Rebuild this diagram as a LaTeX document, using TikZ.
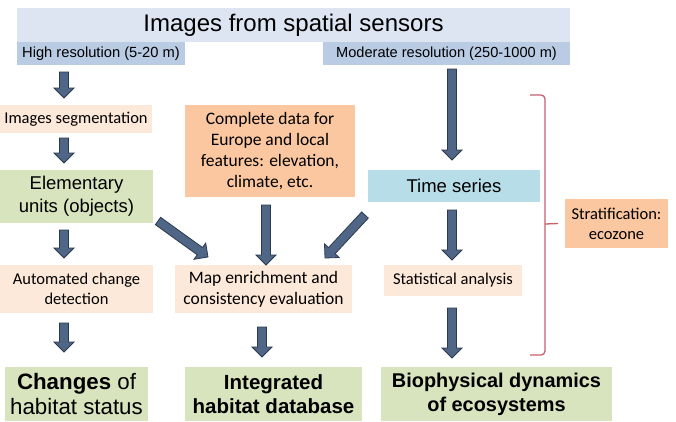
\documentclass[tikz,border=0pt]{standalone}
\usepackage{fontspec}
\setmainfont{Liberation Sans}
\newfontfamily\calfont{Carlito}
\usetikzlibrary{calc}
\definecolor{titlebg}{HTML}{DCE5F1}
\definecolor{resbg}{HTML}{B9CCE4}
\definecolor{peach}{HTML}{FDE9D9}
\definecolor{orangebg}{HTML}{FAC7A0}
\definecolor{greenbg}{HTML}{D8E4BD}
\definecolor{tsbg}{HTML}{B7DEE8}
\definecolor{arrfill}{HTML}{506686}
\definecolor{arrline}{HTML}{2C3A4E}
\definecolor{brk}{HTML}{C9606C}
\tikzset{
  box/.style={inner sep=0pt, outer sep=0pt, anchor=north west, align=center},
  calt/.style={font=\calfont\fontsize{16.5}{20}\selectfont},
  calbig/.style={font=\calfont\fontsize{17.5}{21}\selectfont},
  blockarrow/.style={draw=arrline, fill=arrfill, line width=0.8pt, line join=miter},
  bracketline/.style={draw=brk, line width=1.3pt, rounded corners=4pt},
}
\newcommand\barrow[2]{%
  \path[blockarrow] let \p1=#1, \p2=#2,
    \n1={atan2(\y2-\y1,\x2-\x1)}, \n2={veclen(\x2-\x1,\y2-\y1)} in
    [shift={(\p1)}, rotate=\n1]
    (0pt,-4.5pt) -- ({\n2*1pt-10pt},-4.5pt) -- ({\n2*1pt-10pt},-10pt) --
    ({\n2*1pt},0pt) -- ({\n2*1pt-10pt},10pt) -- ({\n2*1pt-10pt},4.5pt) --
    (0pt,4.5pt) -- cycle;}
\begin{document}
\begin{tikzpicture}[x=1pt,y=-1pt]
\fill[white] (0,0) rectangle (676,421);
\useasboundingbox (0,0) rectangle (676,421);

% top
\node[box, fill=titlebg, minimum width=553pt, minimum height=34pt,
      font=\fontsize{24}{28}\selectfont] (title) at (17,8) {Images from spatial sensors};
\node[box, fill=resbg, minimum width=168pt, minimum height=23pt,
      font=\fontsize{14.7}{17}\selectfont] (hr) at (17,42) {High resolution (5-20 m)};
\node[box, fill=resbg, minimum width=247pt, minimum height=23pt,
      font=\fontsize{14.6}{17}\selectfont] (mr) at (323,42) {Moderate resolution (250-1000 m)};

% left column
\node[box, calt, fill=peach, minimum width=152pt, minimum height=28pt] (seg) at (0,105) {Images segmentation};
\node[box, fill=greenbg, minimum width=153pt, minimum height=53pt,
      font=\fontsize{18.5}{23}\selectfont] (elem) at (0,170) {Elementary\\units (objects)};
\node[box, calt, fill=peach, minimum width=153pt, minimum height=48pt] (auto) at (0,265) {Automated change\\detection};
\node[box, fill=greenbg, minimum width=143pt, minimum height=54pt,
      font=\fontsize{22.3}{25.5}\selectfont] (chg) at (5,367) {\textbf{Changes} of\\habitat status};

% middle column
\node[box, calbig, fill=orangebg, minimum width=170pt, minimum height=92pt] (comp) at (185,105)
  {Complete data for\\Europe and local\\features: elevation,\\climate, etc.};
\node[box, calbig, fill=peach, minimum width=177pt, minimum height=48pt] (map) at (175,265)
  {Map enrichment and\\consistency evaluation};
\node[box, fill=greenbg, minimum width=177pt, minimum height=54pt,
      font=\bfseries\fontsize{20.5}{24}\selectfont] (int) at (185,367) {Integrated\\habitat database};

% right column
\node[box, fill=tsbg, minimum width=172pt, minimum height=32pt,
      font=\fontsize{18.5}{23}\selectfont] (ts) at (368,170) {Time series};
\node[box, calt, fill=peach, minimum width=138pt, minimum height=31pt] (stat) at (384,265) {Statistical analysis};
\node[box, fill=greenbg, minimum width=231pt, minimum height=54pt,
      font=\bfseries\fontsize{19.9}{24}\selectfont] (bio) at (381,367) {Biophysical dynamics\\of ecosystems};
\node[box, calt, fill=orangebg, minimum width=103pt, minimum height=49pt] (strat) at (565,199)
  {Stratification:\\ecozone};

% bracket
\coordinate (btop) at (530,95);
\coordinate (bbot) at (530,355);
\draw[bracketline] (btop) -- ++(15,0) -- ++(0,260) -- (bbot);
\draw[bracketline] (545,224) -- ($(strat.west)+(-7,0)$);

% arrows
\barrow{($(hr.south west)+(47,7)$)}{($(seg.north west)+(64,-7)$)}
\barrow{($(seg.south west)+(64,5)$)}{($(elem.north west)+(64,-7)$)}
\barrow{($(elem.south west)+(64,7)$)}{($(auto.north west)+(64,-7)$)}
\barrow{($(auto.south west)+(64,10)$)}{($(chg.north west)+(59,-15)$)}
\barrow{($(elem.south east)+(5,-2)$)}{($(map.north west)+(33,-8)$)}
\barrow{($(comp.south west)+(81,8)$)}{($(map.north west)+(91,0)$)}
\barrow{($(ts.south west)+(-3,13)$)}{($(map.north east)+(-27,-7)$)}
\barrow{($(map.south west)+(87,14)$)}{($(int.north west)+(77,-10)$)}
\barrow{($(mr.south west)+(129,4)$)}{($(ts.north west)+(84,-10)$)}
\barrow{($(ts.south west)+(84,8)$)}{($(stat.north west)+(68,-5)$)}
\barrow{($(stat.south west)+(68,12)$)}{($(bio.north west)+(71,-9)$)}
\end{tikzpicture}
\end{document}
